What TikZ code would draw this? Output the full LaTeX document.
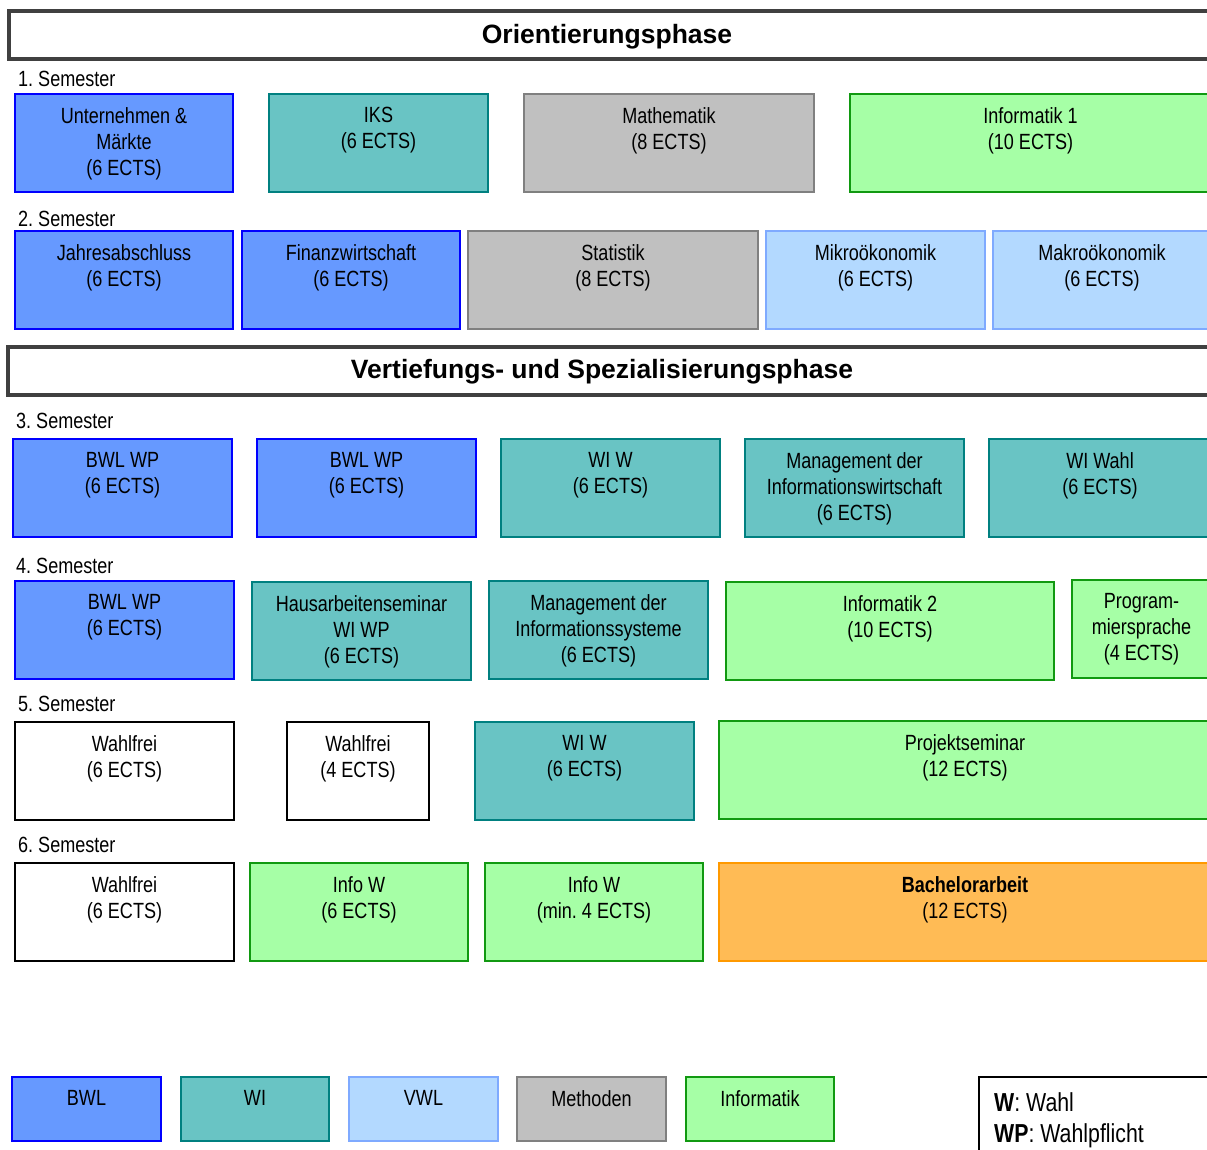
\documentclass[tikz,border=0pt]{standalone}
\usepackage{fontspec}
\setmainfont{Liberation Sans}[FakeStretch=0.82]
\newfontfamily\phasefont{Liberation Sans}
\newcommand\coursefont{\fontsize{22}{26}\selectfont}
\newcommand\keyfont{\fontsize{26}{31}\selectfont}
\frenchspacing

\definecolor{bwlfill}{HTML}{6699FF}
\definecolor{bwlline}{HTML}{0000FF}
\definecolor{wifill}{HTML}{69C4C4}
\definecolor{wiline}{HTML}{008080}
\definecolor{vwlfill}{HTML}{B3D9FF}
\definecolor{vwlline}{HTML}{7FAAFF}
\definecolor{methfill}{HTML}{C0C0C0}
\definecolor{methline}{HTML}{808080}
\definecolor{infofill}{HTML}{A6FFA6}
\definecolor{infoline}{HTML}{119911}
\definecolor{bafill}{HTML}{FFBB55}
\definecolor{baline}{HTML}{FF9900}
\definecolor{phaseline}{HTML}{404040}

\begin{document}
\begin{tikzpicture}[x=1pt,y=-1pt]
        % Define styles
        \tikzset{
            course/.style={draw, line width=2pt, anchor=north west, minimum height=98pt, inner sep=0pt, outer sep=0pt},
            bwl/.style={course, fill=bwlfill, draw=bwlline},
            wi/.style={course, fill=wifill, draw=wiline},
            vwl/.style={course, fill=vwlfill, draw=vwlline},
            meth/.style={course, fill=methfill, draw=methline},
            info/.style={course, fill=infofill, draw=infoline},
            thesis/.style={course, fill=bafill, draw=baline},
            free/.style={course, fill=white, draw=black},
            legend/.style={minimum height=64pt},
            lbl/.style={anchor=north, inner sep=0pt, yshift=-13pt, align=center, font=\coursefont},
            sem/.style={anchor=west, inner sep=0pt, font=\coursefont},
            phase/.style={draw=phaseline, line width=3.5pt, anchor=north west, minimum height=48pt, inner sep=0pt, outer sep=0pt},
            phasetitle/.style={inner sep=0pt, font=\phasefont\bfseries\fontsize{26.5}{30}\selectfont}
        }
        \useasboundingbox (0,0) rectangle (1207,1149);
        \clip (0,0) rectangle (1207,1149);

        % Orientierungsphase
        \node[phase, minimum width=1205pt] (phase1) at (9,11) {};
        \node[phasetitle] (phase1_title) at (607,37) {Orientierungsphase};

        % 1. Semester
        \node[sem] (sem1) at (18,79) {1. Semester};
        \node[bwl, minimum width=218pt, label={[lbl]north:{Unternehmen \&\\Märkte\\(6 ECTS)}}] (um) at (15,94) {};
        \node[wi, minimum width=219pt, label={[lbl]north:{IKS\\(6 ECTS)}}] (iks) at (269,94) {};
        \node[meth, minimum width=290pt, label={[lbl]north:{Mathematik\\(8 ECTS)}}] (mathe) at (524,94) {};
        \node[info, minimum width=361pt, label={[lbl]north:{Informatik 1\\(10 ECTS)}}] (inf1) at (850,94) {};

        % 2. Semester
        \node[sem] (sem2) at (18,219) {2. Semester};
        \node[bwl, minimum width=218pt, label={[lbl]north:{Jahresabschluss\\(6 ECTS)}}] (ja) at (15,231) {};
        \node[bwl, minimum width=218pt, label={[lbl]north:{Finanzwirtschaft\\(6 ECTS)}}] (fw) at (242,231) {};
        \node[meth, minimum width=290pt, label={[lbl]north:{Statistik\\(8 ECTS)}}] (stat) at (468,231) {};
        \node[vwl, minimum width=219pt, label={[lbl]north:{Mikroökonomik\\(6 ECTS)}}] (mikro) at (766,231) {};
        \node[vwl, minimum width=218pt, label={[lbl]north:{Makroökonomik\\(6 ECTS)}}] (makro) at (993,231) {};

        % Vertiefungs- und Spezialisierungsphase
        \node[phase, minimum width=1206pt] (phase2) at (8,347) {};
        \node[phasetitle] (phase2_title) at (602,372) {Vertiefungs- und Spezialisierungsphase};

        % 3. Semester
        \node[sem] (sem3) at (16,421) {3. Semester};
        \node[bwl, minimum width=219pt, label={[lbl]north:{BWL WP\\(6 ECTS)}}] (bwlwp1) at (13,439) {};
        \node[bwl, minimum width=219pt, label={[lbl]north:{BWL WP\\(6 ECTS)}}] (bwlwp2) at (257,439) {};
        \node[wi, minimum width=219pt, label={[lbl]north:{WI W\\(6 ECTS)}}] (wiw1) at (501,439) {};
        \node[wi, minimum width=219pt, label={[lbl]north:{Management der\\Informationswirtschaft\\(6 ECTS)}}] (miw) at (745,439) {};
        \node[wi, minimum width=222pt, label={[lbl]north:{WI Wahl\\(6 ECTS)}}] (wiwahl) at (989,439) {};

        % 4. Semester
        \node[sem] (sem4) at (16,566) {4. Semester};
        \node[bwl, minimum width=219pt, label={[lbl]north:{BWL WP\\(6 ECTS)}}] (bwlwp3) at (15,581) {};
        \node[wi, minimum width=219pt, label={[lbl]north:{Hausarbeitenseminar\\WI WP\\(6 ECTS)}}] (has) at (252,582) {};
        \node[wi, minimum width=219pt, label={[lbl]north:{Management der\\Informationssysteme\\(6 ECTS)}}] (mis) at (489,581) {};
        \node[info, minimum width=328pt, label={[lbl]north:{Informatik 2\\(10 ECTS)}}] (inf2) at (726,582) {};
        \node[info, minimum width=139pt, label={[lbl]north:{Program-\\miersprache\\(4 ECTS)}}] (prog) at (1072,580) {};

        % 5. Semester
        \node[sem] (sem5) at (18,704) {5. Semester};
        \node[free, minimum width=219pt, label={[lbl]north:{Wahlfrei\\(6 ECTS)}}] (wf1) at (15,722) {};
        \node[free, minimum width=142pt, label={[lbl]north:{Wahlfrei\\(4 ECTS)}}] (wf2) at (287,722) {};
        \node[wi, minimum width=219pt, label={[lbl]north:{WI W\\(6 ECTS)}}] (wiw2) at (475,722) {};
        \node[info, minimum width=492pt, label={[lbl]north:{Projektseminar\\(12 ECTS)}}] (proj) at (719,721) {};

        % 6. Semester
        \node[sem] (sem6) at (18,845) {6. Semester};
        \node[free, minimum width=219pt, label={[lbl]north:{Wahlfrei\\(6 ECTS)}}] (wf3) at (15,863) {};
        \node[info, minimum width=218pt, label={[lbl]north:{Info W\\(6 ECTS)}}] (infw1) at (250,863) {};
        \node[info, minimum width=218pt, label={[lbl]north:{Info W\\(min. 4 ECTS)}}] (infw2) at (485,863) {};
        \node[thesis, minimum width=492pt, label={[lbl]north:{\textbf{Bachelorarbeit}\\(12 ECTS)}}] (ba) at (719,863) {};

        % Legend
        \node[bwl, legend, minimum width=149pt, label={[lbl]north:BWL}] (key_bwl) at (12,1077) {};
        \node[wi, legend, minimum width=148pt, label={[lbl]north:WI}] (key_wi) at (181,1077) {};
        \node[vwl, legend, minimum width=149pt, label={[lbl]north:VWL}] (key_vwl) at (349,1077) {};
        \node[meth, legend, minimum width=149pt, label={[lbl]north:Methoden}] (key_meth) at (517,1077) {};
        \node[info, legend, minimum width=148pt, label={[lbl]north:Informatik}] (key_info) at (686,1077) {};
        \node[free, minimum width=240pt, minimum height=90pt,
              label={[anchor=north west, inner sep=0pt, xshift=15pt, yshift=-15pt, align=left, font=\keyfont]north west:{\textbf{W}: Wahl\\\textbf{WP}: Wahlpflicht}}] (key_abbr) at (979,1077) {};
    \end{tikzpicture}
\end{document}
